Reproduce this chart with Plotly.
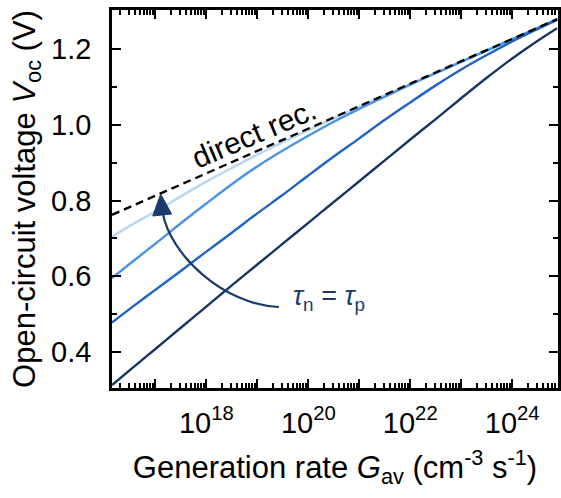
import plotly.graph_objects as go

# log10 of generation rate G_av (cm^-3 s^-1)
log_g = [16.15, 16.5, 17.0, 17.5, 18.0, 18.5, 19.0, 19.5, 20.0, 20.5, 21.0,
         21.5, 22.0, 22.5, 23.0, 23.5, 24.0, 24.5, 24.88]

# open-circuit voltage (V)
voc_direct = [0.762, 0.783, 0.812, 0.842, 0.872, 0.901, 0.931, 0.960, 0.990, 1.020,
              1.049, 1.079, 1.108, 1.138, 1.168, 1.197, 1.227, 1.256, 1.279]
voc_light = [0.704, 0.733, 0.771, 0.811, 0.850, 0.886, 0.921, 0.954, 0.986, 1.017,
             1.048, 1.078, 1.107, 1.137, 1.167, 1.197, 1.226, 1.256, 1.278]
voc_medium = [0.595, 0.633, 0.686, 0.740, 0.792, 0.843, 0.890, 0.932, 0.971, 1.008,
              1.042, 1.074, 1.106, 1.136, 1.166, 1.196, 1.226, 1.256, 1.278]
voc_blue = [0.478, 0.514, 0.564, 0.614, 0.665, 0.715, 0.766, 0.815, 0.866, 0.916,
            0.964, 1.013, 1.059, 1.104, 1.146, 1.184, 1.220, 1.253, 1.277]
voc_dark = [0.313, 0.352, 0.408, 0.464, 0.520, 0.576, 0.631, 0.686, 0.741, 0.796,
            0.851, 0.906, 0.961, 1.015, 1.070, 1.124, 1.175, 1.222, 1.255]

colors = ["#b8d5f3", "#4b93e3", "#1f63c4", "#173563"]
series = [voc_light, voc_medium, voc_blue, voc_dark]

x_major = [1e17, 1e18, 1e19, 1e20, 1e21, 1e22, 1e23, 1e24]
x_major_labels = ["", "10<sup>18</sup>", "", "10<sup>20</sup>", "", "10<sup>22</sup>", "", "10<sup>24</sup>"]
y_major = [0.4, 0.6, 0.8, 1.0, 1.2]
y_major_labels = ["0.4", "0.6", "0.8", "1.0", "1.2"]
y_minor = [0.3, 0.5, 0.7, 0.9, 1.1]

G = [10.0 ** v for v in log_g]

fig = go.Figure()
for v, c in zip(series, colors):
    fig.add_trace(go.Scatter(x=G, y=v, mode="lines", line=dict(color=c, width=2.4),
                             line_shape="spline", showlegend=False, hoverinfo="skip"))
fig.add_trace(go.Scatter(x=G, y=voc_direct, mode="lines",
                         line=dict(color="black", width=2.4, dash="8px,5px"),
                         showlegend=False, hoverinfo="skip"))

font = "Liberation Sans, Arial, sans-serif"
x_minor = [float(m) * 10.0 ** d for d in range(16, 25) for m in range(2, 10)]

L, T, W, H = 112, 10, 449, 378

fig.update_xaxes(type="log", range=[16.15, 16.15 + W / 51.33], tickmode="array", tickvals=x_major,
                 ticktext=x_major_labels, ticks="inside", ticklen=9, tickwidth=2,
                 tickcolor="black", mirror="allticks", showline=True, linecolor="black",
                 linewidth=2.5, showgrid=False, zeroline=False, ticklabelstandoff=7,
                 tickfont=dict(family=font, size=29, color="black"),
                 minor=dict(tickmode="array", tickvals=x_minor, ticks="inside", ticklen=5,
                            tickwidth=1.5, tickcolor="black", showgrid=False),
                 title=dict(text="Generation rate <i>G</i><sub>av</sub> (cm<sup>-3</sup> s<sup>-1</sup>)",
                            font=dict(family=font, size=31, color="black"), standoff=19))
fig.update_yaxes(range=[0.305, 1.303], tickmode="array", tickvals=y_major,
                 ticktext=y_major_labels,
                 ticks="inside", ticklen=9, tickwidth=2, tickcolor="black",
                 mirror="allticks", showline=True, linecolor="black", linewidth=2.5,
                 showgrid=False, zeroline=False, ticklabelstandoff=12,
                 tickfont=dict(family=font, size=29, color="black"),
                 minor=dict(tickmode="array", tickvals=y_minor, ticks="inside", ticklen=5,
                            tickwidth=1.5, tickcolor="black", showgrid=False),
                 title=dict(text="Open-circuit voltage <i>V</i><sub>oc</sub> (V)",
                            font=dict(family=font, size=31, color="black"), standoff=7))


def px(x, y):
    return (x - L) / W, (T + H - y) / H


p0 = px(280, 307); c1 = px(225, 305); c2 = px(170, 255); p3 = px(163, 212)
path = "M {} {} C {} {}, {} {}, {} {}".format(*p0, *c1, *c2, *p3)
navy = "#1b3b6d"
fig.add_shape(type="path", path=path, xref="paper", yref="paper",
              line=dict(color=navy, width=2.2))
t0 = px(161, 194); t1 = px(153, 216); t2 = px(172, 214)
fig.add_shape(type="path", path="M {} {} L {} {} L {} {} Z".format(*t0, *t1, *t2),
              xref="paper", yref="paper", fillcolor=navy, line=dict(color=navy, width=1))

tx, ty = px(330, 298)
fig.add_annotation(text="<i>τ</i><sub>n</sub> = <i>τ</i><sub>p</sub>", xref="paper", yref="paper",
                   x=tx, y=ty, xanchor="center", yanchor="middle", showarrow=False,
                   font=dict(family=font, size=27, color=navy))
dx, dy = px(255, 133)
fig.add_annotation(text="direct rec.", xref="paper", yref="paper",
                   x=dx, y=dy, xanchor="center", yanchor="middle", showarrow=False, textangle=-23,
                   font=dict(family=font, size=30, color="black"))

fig.update_layout(width=561, height=498, margin=dict(l=L, r=561 - L - W, t=T, b=498 - T - H),
                  plot_bgcolor="white", paper_bgcolor="white")
fig.write_html("out.html")
